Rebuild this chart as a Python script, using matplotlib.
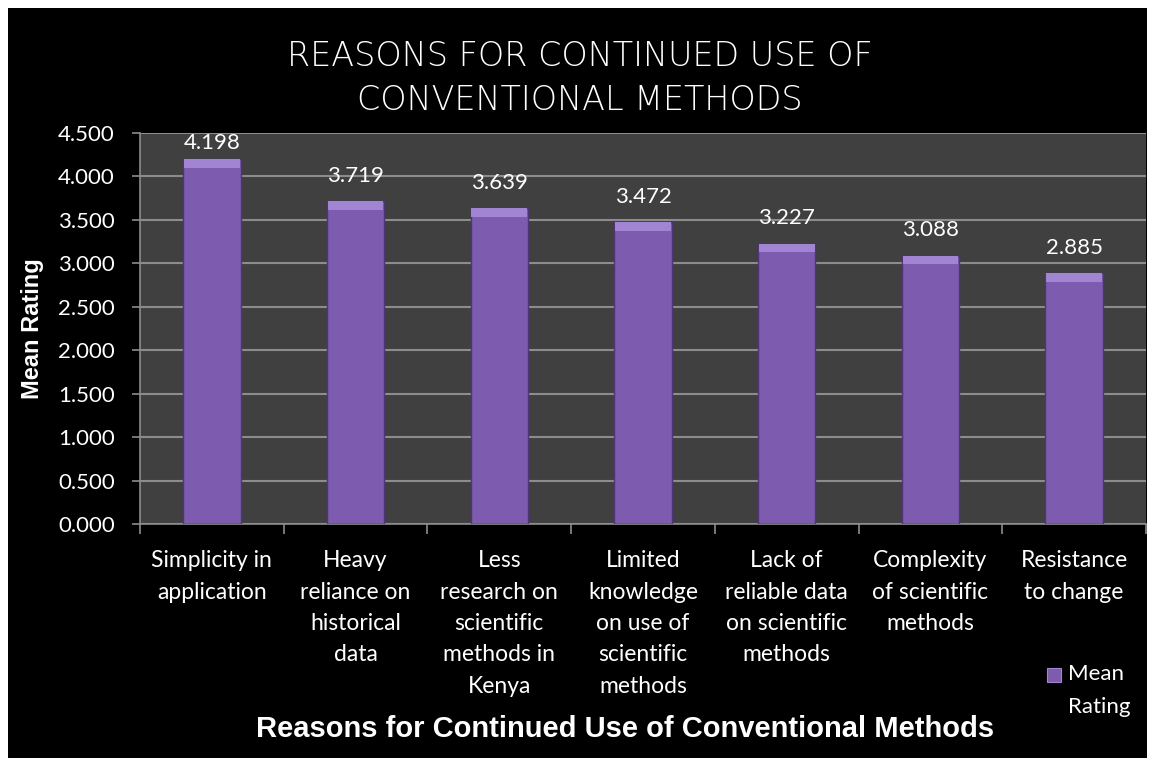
import numpy as np
import matplotlib.pyplot as plt
from matplotlib.patches import Rectangle

# data
categories = ['Simplicity in\napplication', 'Heavy\nreliance on\nhistorical\ndata',
              'Less\nresearch on\nscientific\nmethods in\nKenya',
              'Limited\nknowledge\non use of\nscientific\nmethods',
              'Lack of\nreliable data\non scientific\nmethods',
              'Complexity\nof scientific\nmethods', 'Resistance\nto change']
mean_rating = [4.198, 3.719, 3.639, 3.472, 3.227, 3.088, 2.885]
y_ticks = [0.0, 0.5, 1.0, 1.5, 2.0, 2.5, 3.0, 3.5, 4.0, 4.5]

W, H = 1153, 766
fig = plt.figure(figsize=(W / 100, H / 100), dpi=100, facecolor='white')

# black chart background inside a thin white border
fig.patches.append(Rectangle((8 / W, 8 / H), (1147 - 8) / W, (758 - 8) / H,
                             transform=fig.transFigure, facecolor='black',
                             edgecolor='none', zorder=-10))

ax = fig.add_axes([140 / W, (H - 524) / H, (1146 - 140) / W, (524 - 133) / H])
ax.set_facecolor('#404040')

x = np.arange(len(categories))
bar_w = 0.40
purple = '#7d5bae'
ax.bar(x, mean_rating, width=bar_w, color=purple, edgecolor='#4f3578',
       linewidth=1.0, zorder=3)
# lighter bevel on top of each bar
cap = 0.10
ax.bar(x, [cap] * len(x), bottom=np.array(mean_rating) - cap, width=bar_w * 0.97,
       color='#a184d2', edgecolor='none', zorder=4)

ymax = 4.5
for xi, v in zip(x, mean_rating):
    # Excel keeps the label inside the plot area
    ly = min(v + 0.29, ymax - 0.12)
    ax.text(xi, ly, f'{v:.3f}', ha='center', va='center', color='white',
            fontsize=16, family=['Lato', 'DejaVu Sans'], zorder=5)

ax.set_xlim(-0.5, len(x) - 0.5)
ax.set_ylim(0, ymax)
ax.set_yticks(y_ticks)
ax.set_yticklabels([f'{t:.3f}' for t in y_ticks], color='white', fontsize=16,
                   family=['Lato', 'DejaVu Sans'])
ax.yaxis.grid(True, color='#8c8c8c', linewidth=1.5, zorder=1)
ax.set_axisbelow(True)

ax.set_xticks(x)
ax.set_xticklabels(categories, color='white', fontsize=16.5, linespacing=1.61,
                   family=['Lato', 'DejaVu Sans'], va='top')
ax.set_xticks(np.arange(-0.5, len(x)), minor=True)
ax.tick_params(axis='x', which='major', length=0, pad=19)
ax.tick_params(axis='x', which='minor', length=7, color='#8c8c8c', width=1.2)
ax.tick_params(axis='y', length=6, color='#8c8c8c', width=1.2, pad=12)

for side in ['top', 'right']:
    ax.spines[side].set_visible(False)
for side in ['left', 'bottom']:
    ax.spines[side].set_color('#8c8c8c')
    ax.spines[side].set_linewidth(1.2)

ax.set_ylabel('Mean Rating', color='white', fontsize=17, fontweight='bold',
              family=['Liberation Sans', 'DejaVu Sans'])
ax.yaxis.set_label_coords((44 - 140) / 1006, 0.5)

# two-line chart title
title_kw = dict(ha='center', va='baseline', color='white', fontsize=24,
                fontweight='light', family=['DejaVu Sans'])
fig.text(580 / W, 1 - 66 / H, 'REASONS FOR CONTINUED USE OF', **title_kw)
fig.text(580 / W, 1 - 110 / H, 'CONVENTIONAL METHODS', **title_kw)

fig.text(625 / W, 1 - 729 / H, 'Reasons for Continued Use of Conventional Methods',
         ha='center', va='center', color='white', fontsize=21, fontweight='bold',
         family=['Liberation Sans', 'DejaVu Sans'])

# legend
fig.patches.append(Rectangle((1047 / W, 1 - 682 / H), 14 / W, 14 / H,
                             transform=fig.transFigure, facecolor=purple,
                             edgecolor='#a184d2', linewidth=0.8))
fig.text(1068 / W, 1 - 674 / H, 'Mean', ha='left', va='center', color='white',
         fontsize=16, family=['Lato', 'DejaVu Sans'])
fig.text(1068 / W, 1 - 707 / H, 'Rating', ha='left', va='center', color='white',
         fontsize=16, family=['Lato', 'DejaVu Sans'])

fig.savefig('out.png', dpi=100, facecolor='white')
